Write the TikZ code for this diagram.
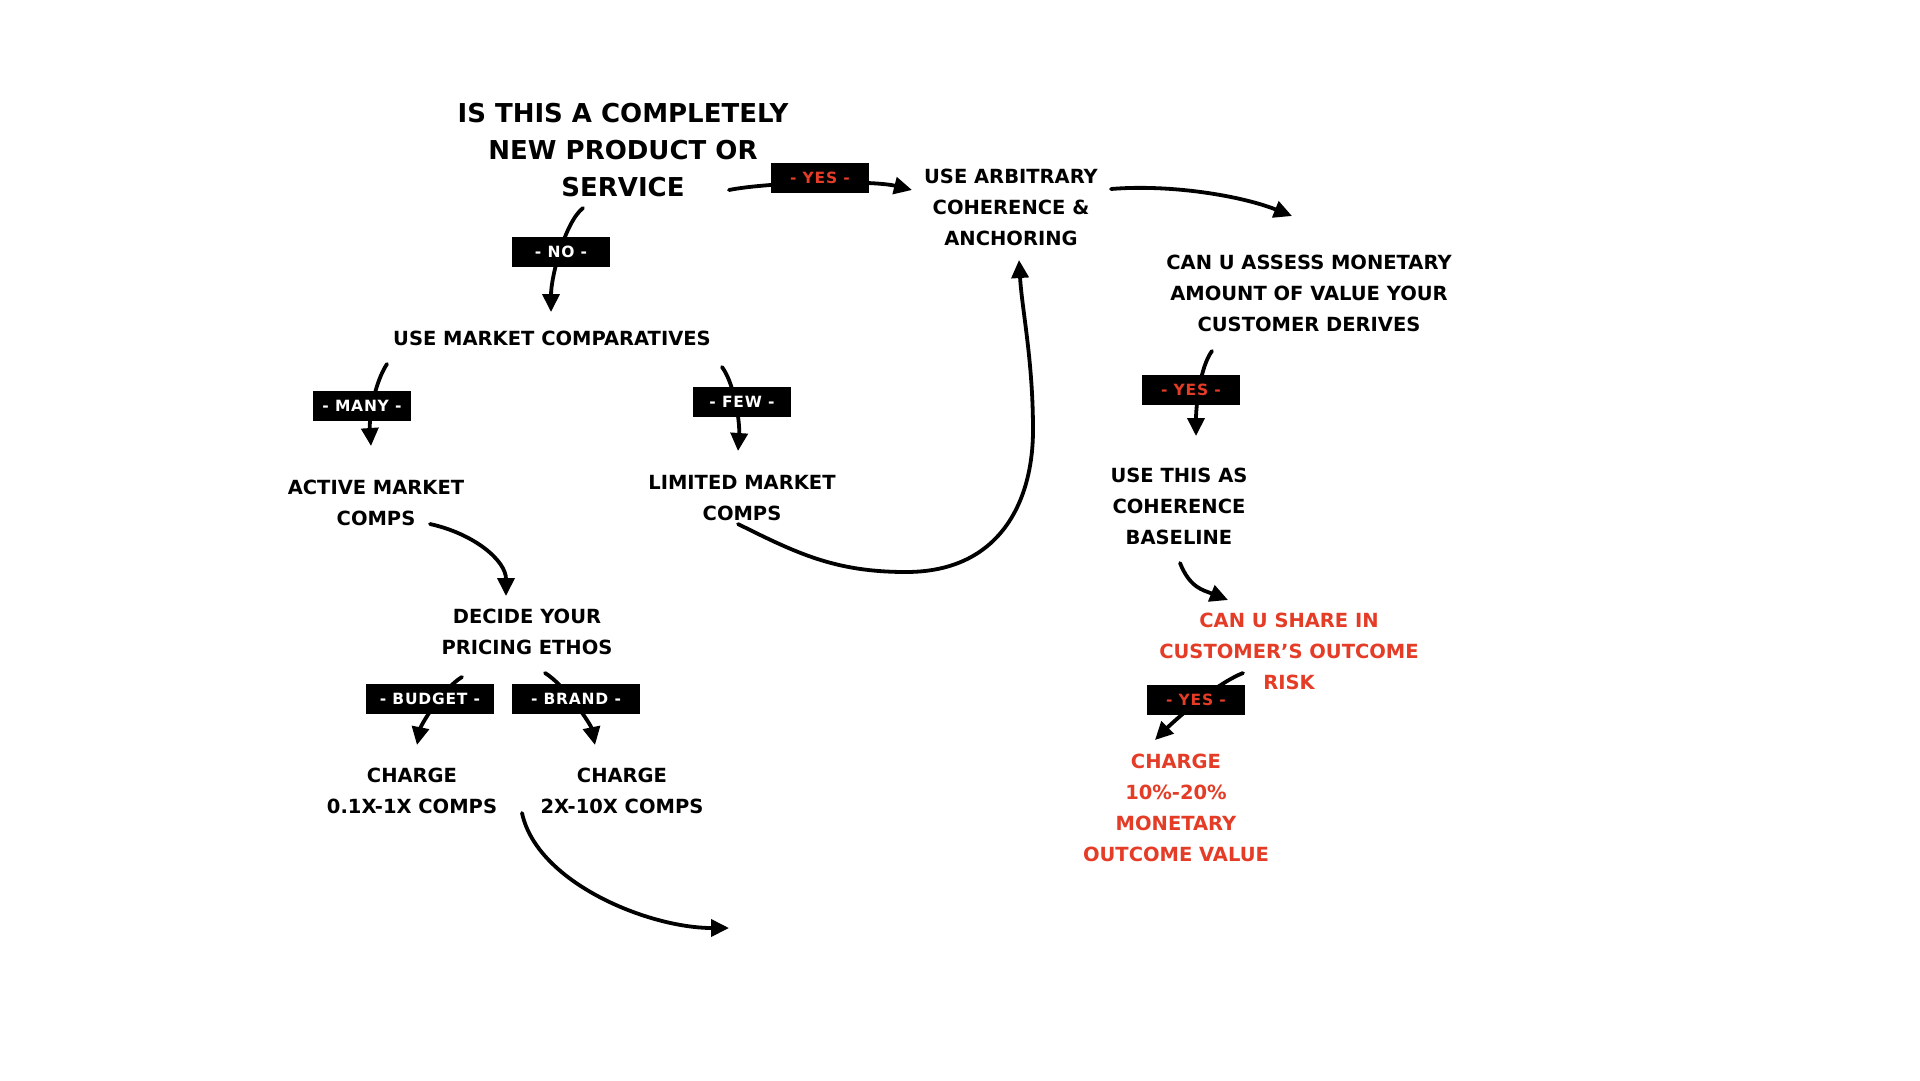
\documentclass[tikz,border=0pt]{standalone}
\usepackage{fontspec}
\setmainfont{DejaVu Sans}
\usetikzlibrary{arrows.meta}
\definecolor{rd}{RGB}{228,60,38}
\begin{document}
\begin{tikzpicture}[x=1pt,y=-1pt,
  txt/.style={align=center, font=\fontsize{19.5}{31}\selectfont\bfseries, inner sep=0pt},
  ttl/.style={align=center, font=\fontsize{26}{37}\selectfont\bfseries, inner sep=0pt},
  tag/.style={fill=black, text=white, minimum width=98pt, minimum height=30pt, inner sep=0pt,
    font=\fontsize{15.5}{15.5}\selectfont\bfseries\addfontfeatures{LetterSpace=5}},
  widetag/.style={tag, minimum width=128pt},
  redtag/.style={tag, text=rd},
  conn/.style={line width=3.8pt, line cap=round, -{Triangle[length=18pt,width=17pt]}},
]
\fill[white] (0,0) rectangle (1920,1080);
\useasboundingbox (0,0) rectangle (1920,1080);

% text nodes
\node[ttl] (title) at (623,150) {IS THIS A COMPLETELY\\NEW PRODUCT OR\\SERVICE};
\node[txt] (arb) at (1011,207) {USE ARBITRARY\\COHERENCE \&\\ANCHORING};
\node[txt] (assess) at (1309,293) {CAN U ASSESS MONETARY\\AMOUNT OF VALUE YOUR\\CUSTOMER DERIVES};
\node[txt] (usethis) at (1179,506) {USE THIS AS\\COHERENCE\\BASELINE};
\node[txt, text=rd] (share) at (1289,651) {CAN U SHARE IN\\CUSTOMER’S OUTCOME\\RISK};
\node[txt, text=rd] (chg3) at (1176,808) {CHARGE\\10\%-20\%\\MONETARY\\OUTCOME VALUE};
\node[txt] (umc) at (552,338) {USE MARKET COMPARATIVES};
\node[txt] (active) at (376,503) {ACTIVE MARKET\\COMPS};
\node[txt] (limited) at (742,498) {LIMITED MARKET\\COMPS};
\node[txt] (decide) at (527,632) {DECIDE YOUR\\PRICING ETHOS};
\node[txt] (chg1) at (412,791) {CHARGE\\0.1X-1X COMPS};
\node[txt] (chg2) at (622,791) {CHARGE\\2X-10X COMPS};
\coordinate (endpt) at (729,928);

% connectors
\draw[conn] ([shift={(106,40)}]title.center) .. controls +(40,-8) and +(-40,-10) .. ([shift={(-99,-17)}]arb.center);
\draw[conn] ([shift={(-40,58)}]title.center) .. controls +(-18,14) and +(0,-35) .. ([shift={(-1,-26)}]umc.center);
\draw[conn] ([shift={(-165,26)}]umc.center) .. controls +(-12,18) and +(-2,-30) .. ([shift={(-5,-57)}]active.center);
\draw[conn] ([shift={(170,29)}]umc.center) .. controls +(12,16) and +(2,-30) .. ([shift={(-4,-47)}]limited.center);
\draw[conn] ([shift={(54,21)}]active.center) .. controls +(45,10) and +(0,-35) .. ([shift={(-21,-36)}]decide.center);
\draw[conn] ([shift={(-4,26)}]limited.center) .. controls +(60,30) and +(-70,0) .. ++(168,48)
   .. controls +(95,0) and +(0,70) .. ++(127,-142)
   .. controls +(0,-70) and +(3,50) .. ([shift={(8,53)}]arb.center);
\draw[conn] ([shift={(-65,45)}]decide.center) .. controls +(-20,12) and +(4,-20) .. ([shift={(5,-46)}]chg1.center);
\draw[conn] ([shift={(18,41)}]decide.center) .. controls +(20,12) and +(-4,-20) .. ([shift={(-27,-46)}]chg2.center);
\draw[conn] ([shift={(-100,22)}]chg2.center) .. controls +(15,70) and +(-80,0) .. (endpt);
\draw[conn] ([shift={(100,-18)}]arb.center) .. controls +(60,-5) and +(-50,-20) .. ([shift={(-17,-77)}]assess.center);
\draw[conn] ([shift={(-97,58)}]assess.center) .. controls +(-12,16) and +(0,-30) .. ([shift={(17,-70)}]usethis.center);
\draw[conn] ([shift={(1,57)}]usethis.center) .. controls +(10,25) and +(-25,-10) .. ([shift={(-61,-51)}]share.center);
\draw[conn] ([shift={(-46,22)}]share.center) .. controls +(-30,12) and +(15,-15) .. ([shift={(-21,-68)}]chg3.center);

% labels on connectors
\node[redtag] (yes1) at (820,178) {- YES -};
\node[tag] (no) at (561,252) {- NO -};
\node[tag] (many) at (362,406) {- MANY -};
\node[tag] (few) at (742,402) {- FEW -};
\node[widetag] (budget) at (430,699) {- BUDGET -};
\node[widetag] (brand) at (576,699) {- BRAND -};
\node[redtag] (yes2) at (1191,390) {- YES -};
\node[redtag] (yes3) at (1196,700) {- YES -};
\end{tikzpicture}
\end{document}
